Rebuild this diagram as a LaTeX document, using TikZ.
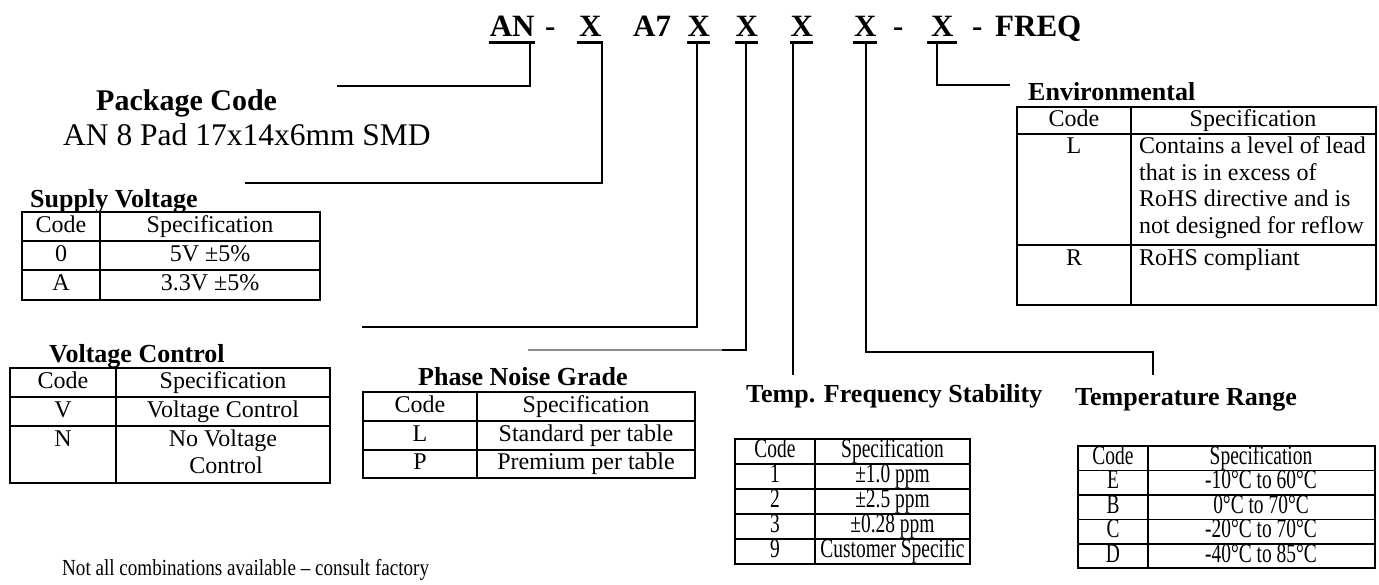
\documentclass[tikz,border=0pt]{standalone}
\usepackage{fontspec}
\setmainfont{Liberation Serif}
\newfontfamily\condfont{Liberation Serif}[FakeStretch=0.72]
\newfontfamily\notefont{Liberation Serif}[FakeStretch=0.83]
\begin{document}
\begin{tikzpicture}[x=1pt,y=-1pt,
  tbl/.style={line width=1.8pt},
  lead/.style={line width=1.5pt},
  leadgray/.style={line width=1.1pt, draw=black!45},
  cell/.style={inner sep=0pt, font=\fontsize{24}{27}\selectfont, text height=16pt, text depth=5pt, anchor=center},
  ccell/.style={inner sep=0pt, font=\condfont\fontsize{27}{29}\selectfont, text height=17pt, text depth=5pt, anchor=center},
  lcell/.style={inner sep=0pt, font=\fontsize{24}{27}\selectfont, text height=16pt, text depth=5pt, anchor=west},
  ttl/.style={inner sep=0pt, anchor=base west, font=\fontsize{26}{30}\selectfont\bfseries},
  pn/.style={inner sep=0pt, anchor=base west, font=\fontsize{31}{34}\selectfont\bfseries, align=center},
  ul/.style={line width=3pt}]
\useasboundingbox (0,0) rectangle (1379,584);

% ---------- part number ----------
\node[pn, minimum width=46pt] (pAN) at (489,36) {AN};
\node[pn] (pd1) at (545,36) {-};
\node[pn, minimum width=26pt] (pX1) at (577,36) {X};
\node[pn] (pA7) at (633,36) {A7};
\node[pn, minimum width=23pt] (pX2) at (687,36) {X};
\node[pn, minimum width=23pt] (pX3) at (735,36) {X};
\node[pn, minimum width=23pt] (pX4) at (790,36) {X};
\node[pn, minimum width=24pt] (pX5) at (853,36) {X};
\node[pn] (pd2) at (893,36) {-};
\node[pn, minimum width=30pt] (pX6) at (927,36) {X};
\node[pn] (pd3) at (972,36) {-};
\node[pn] (pF) at (995,36) {FREQ};
\foreach \n in {pAN,pX1,pX2,pX3,pX4,pX5,pX6}
  \draw[ul] ([yshift=-6pt]\n.base west) -- ([yshift=-6pt]\n.base east);

% ---------- leader coordinates ----------
\coordinate (uAN) at (530,42);  \coordinate (eAN) at (337,86);
\coordinate (uX1) at (602,42);  \coordinate (eX1) at (245,183);
\coordinate (uX2) at (697,42);  \coordinate (eX2) at (362,327);
\coordinate (uX3) at (746,42);  \coordinate (mX3) at (722,350); \coordinate (eX3) at (528,350);
\coordinate (uX4) at (793,42);  \coordinate (eX4) at (793,375);
\coordinate (uX5) at (866,42);  \coordinate (kX5) at (1153,352); \coordinate (eX5) at (1153,375);
\coordinate (uX6) at (937,42);  \coordinate (eX6) at (1010,85);

\draw[lead] (uAN) |- (eAN);
\draw[lead] (uX1) |- (eX1);
\draw[lead] (uX2) |- (eX2);
\draw[lead] (uX3) |- (mX3);
\draw[leadgray] (mX3) -- (eX3);
\draw[lead] (uX4) -- (eX4);
\draw[lead] (uX5) |- (kX5) -- (eX5);
\draw[lead] (uX6) |- (eX6);

% ---------- package code ----------
\node[ttl, font=\fontsize{30}{34}\selectfont\bfseries] (tPkg) at (96,110) {Package Code};
\node[inner sep=0pt, anchor=base west, font=\fontsize{31.5}{36}\selectfont] (tPkgD) at (63,145) {AN 8 Pad 17x14x6mm SMD};

% ---------- supply voltage ----------
\node[ttl] (tSup) at (30,207) {Supply Voltage};
\draw[tbl] (22,212) rectangle (320,300);
\draw[tbl] (22,241) -- (320,241) (22,270) -- (320,270) (100,212) -- (100,300);
\node[cell] (s11) at (61,226.5) {Code};
\node[cell] (s12) at (210,226.5) {Specification};
\node[cell] (s21) at (61,255.5) {0};
\node[cell] (s22) at (210,255.5) {5V ±5\%};
\node[cell] (s31) at (61,285) {A};
\node[cell] (s32) at (210,285) {3.3V ±5\%};

% ---------- voltage control ----------
\node[ttl] (tVC) at (49,362) {Voltage Control};
\draw[tbl] (10,368) rectangle (330,483);
\draw[tbl] (10,397) -- (330,397) (10,426) -- (330,426) (116,368) -- (116,483);
\node[cell] (v11) at (63,382.5) {Code};
\node[cell] (v12) at (223,382.5) {Specification};
\node[cell] (v21) at (63,411.5) {V};
\node[cell] (v22) at (223,411.5) {Voltage Control};
\node[cell] (v31) at (63,441) {N};
\node[cell] (v32) at (223,441) {No Voltage};
\node[cell] (v33) at (226,468) {Control};

% ---------- phase noise ----------
\node[ttl] (tPN) at (418,385) {Phase Noise Grade};
\draw[tbl] (363,392) rectangle (695,478);
\draw[tbl] (363,421) -- (695,421) (363,450) -- (695,450) (477,392) -- (477,478);
\node[cell] (p11) at (420,406.5) {Code};
\node[cell] (p12) at (586,406.5) {Specification};
\node[cell] (p21) at (420,435.5) {L};
\node[cell] (p22) at (586,435.5) {Standard per table};
\node[cell] (p31) at (420,464) {P};
\node[cell] (p32) at (586,464) {Premium per table};

% ---------- temp frequency stability ----------
\node[ttl] (tTFS) at (746,402) {Temp. Frequency Stability};
\draw[tbl] (735,439) rectangle (970,564);
\draw[tbl] (735,464) -- (970,464) (735,489) -- (970,489) (735,514) -- (970,514) (735,539) -- (970,539) (815,439) -- (815,564);
\node[ccell] (f11) at (775,451.5) {Code};
\node[ccell] (f12) at (892.5,451.5) {Specification};
\node[ccell] (f21) at (775,476.5) {1};
\node[ccell] (f22) at (892.5,476.5) {±1.0 ppm};
\node[ccell] (f31) at (775,501.5) {2};
\node[ccell] (f32) at (892.5,501.5) {±2.5 ppm};
\node[ccell] (f41) at (775,526.5) {3};
\node[ccell] (f42) at (892.5,526.5) {±0.28 ppm};
\node[ccell] (f51) at (775,551.5) {9};
\node[ccell] (f52) at (892.5,551.5) {Customer Specific};

% ---------- temperature range ----------
\node[ttl] (tTR) at (1075,405) {Temperature Range};
\draw[tbl] (1078,446) rectangle (1375,568);
\draw[tbl] (1078,470.5) -- (1375,470.5) (1078,495) -- (1375,495) (1078,519.5) -- (1375,519.5) (1078,544) -- (1375,544) (1148,446) -- (1148,568);
\node[ccell] (r11) at (1113,458) {Code};
\node[ccell] (r12) at (1261,458) {Specification};
\node[ccell] (r21) at (1113,482.5) {E};
\node[ccell] (r22) at (1261,482.5) {-10°C to 60°C};
\node[ccell] (r31) at (1113,507) {B};
\node[ccell] (r32) at (1261,507) {0°C to 70°C};
\node[ccell] (r41) at (1113,531.5) {C};
\node[ccell] (r42) at (1261,531.5) {-20°C to 70°C};
\node[ccell] (r51) at (1113,556) {D};
\node[ccell] (r52) at (1261,556) {-40°C to 85°C};

% ---------- environmental ----------
\node[ttl] (tEnv) at (1028,100) {Environmental};
\draw[tbl] (1017,107) rectangle (1376,305);
\draw[tbl] (1017,134) -- (1376,134) (1017,245) -- (1376,245) (1131,107) -- (1131,305);
\node[cell] (e11) at (1074,120.5) {Code};
\node[cell] (e12) at (1253,120.5) {Specification};
\node[cell] (e21) at (1074,148) {L};
\node[lcell] (e22) at (1139,148) {Contains a level of lead};
\node[lcell] (e23) at (1139,174.5) {that is in excess of};
\node[lcell] (e24) at (1139,201) {RoHS directive and is};
\node[lcell] (e25) at (1139,227.5) {not designed for reflow};
\node[cell] (e31) at (1074,260) {R};
\node[lcell] (e32) at (1139,260) {RoHS compliant};

% ---------- note ----------
\node[inner sep=0pt, anchor=base west, font=\notefont\fontsize{23}{27}\selectfont] (note) at (62,575) {Not all combinations available – consult factory};
\end{tikzpicture}
\end{document}
